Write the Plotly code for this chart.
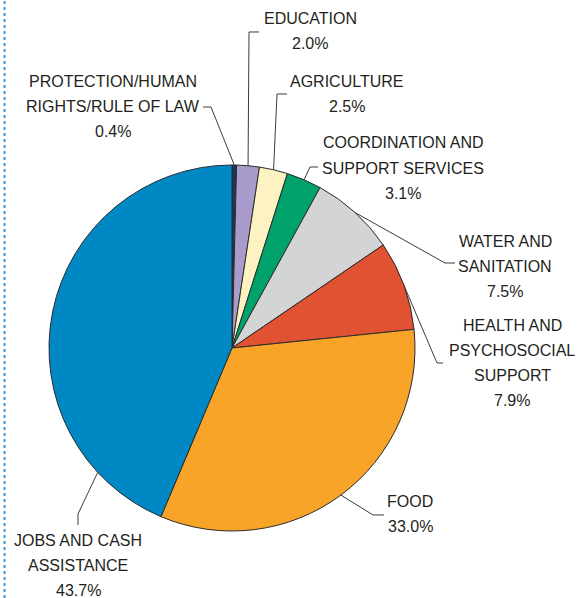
import math
import plotly.graph_objects as go

# Sector shares of total funding (%), clockwise from 12 o'clock
sectors = [
    ["PROTECTION/HUMAN", "RIGHTS/RULE OF LAW"],
    ["EDUCATION"],
    ["AGRICULTURE"],
    ["COORDINATION AND", "SUPPORT SERVICES"],
    ["WATER AND", "SANITATION"],
    ["HEALTH AND", "PSYCHOSOCIAL", "SUPPORT"],
    ["FOOD"],
    ["JOBS AND CASH", "ASSISTANCE"],
]
shares = [0.4, 2.0, 2.5, 3.1, 7.5, 7.9, 33.0, 43.7]
colors = ["#1b365f", "#a99bcc", "#fdf2c2", "#00a26b", "#d3d4d6",
          "#e05231", "#f7a428", "#0088c4"]

W, H = 582, 598
CX, CY, R = 232, 348, 183          # pie centre and radius in pixels
LINE_GAP = 25                      # vertical distance between label lines


def px(x):
    return x / W


def py(y):
    return 1 - y / H


# centre x and first-line centre y of each label block,
# where the leader line meets the pie along the slice (0..1),
# and the elbow points of each leader line
label_pos = [(113, 81.5), (310, 19), (347, 81), (403, 143),
             (505, 241.5), (512, 325.5), (410, 501), (78, 540)]
anchor_frac = [0.5, 0.5, 0.5, 0.5, 0.5, 0.5, 0.5, 0.155]
elbows = [
    [(211, 107), (203, 107)],
    [(249, 32), (259, 32)],
    [(277, 94), (287, 94)],
    [(310, 167), (318, 167)],
    [(445, 263), (455, 263)],
    [(437, 363), (443, 363)],
    [(373, 515), (384, 515)],
    [(78, 514), (78, 525)],
]

fig = go.Figure(go.Pie(
    values=shares,
    labels=[" ".join(s) for s in sectors],
    sort=False,
    direction="clockwise",
    rotation=0,
    marker=dict(colors=colors, line=dict(color="#2b2b2b", width=1)),
    textinfo="none",
    hoverinfo="label+percent",
    domain=dict(x=[px(CX - R), px(CX + R)], y=[py(CY + R), py(CY - R)]),
    showlegend=False,
))

total = sum(shares)
cum = 0.0
shapes = []
annotations = []
font = dict(family="Liberation Sans, Arial", size=16, color="#231f20")
for lines, v, (lx, ly), f, elb in zip(sectors, shares, label_pos, anchor_frac, elbows):
    theta = 2 * math.pi * (cum + f * v) / total
    cum += v
    ax = CX + R * math.sin(theta)
    ay = CY - R * math.cos(theta)
    pts = [(ax, ay)] + elb
    path = "M " + " L ".join(f"{px(x):.5f},{py(y):.5f}" for x, y in pts)
    shapes.append(dict(type="path", xref="paper", yref="paper", path=path,
                       line=dict(color="#3a3a3a", width=1)))
    for i, txt in enumerate(lines + [f"{v:.1f}%"]):
        annotations.append(dict(
            x=px(lx), y=py(ly + i * LINE_GAP), xref="paper", yref="paper",
            text=txt, showarrow=False, borderpad=0,
            xanchor="center", yanchor="middle", align="center", font=font,
        ))

# dotted rule along the left edge
shapes.append(dict(type="line", xref="paper", yref="paper",
                   x0=px(4.5), x1=px(4.5), y0=0, y1=1,
                   line=dict(color="#3b9ad8", width=2, dash="dot")))

fig.update_layout(
    width=W, height=H,
    margin=dict(l=0, r=0, t=0, b=0),
    paper_bgcolor="white",
    plot_bgcolor="white",
    shapes=shapes,
    annotations=annotations,
)

fig.write_html("out.html")
